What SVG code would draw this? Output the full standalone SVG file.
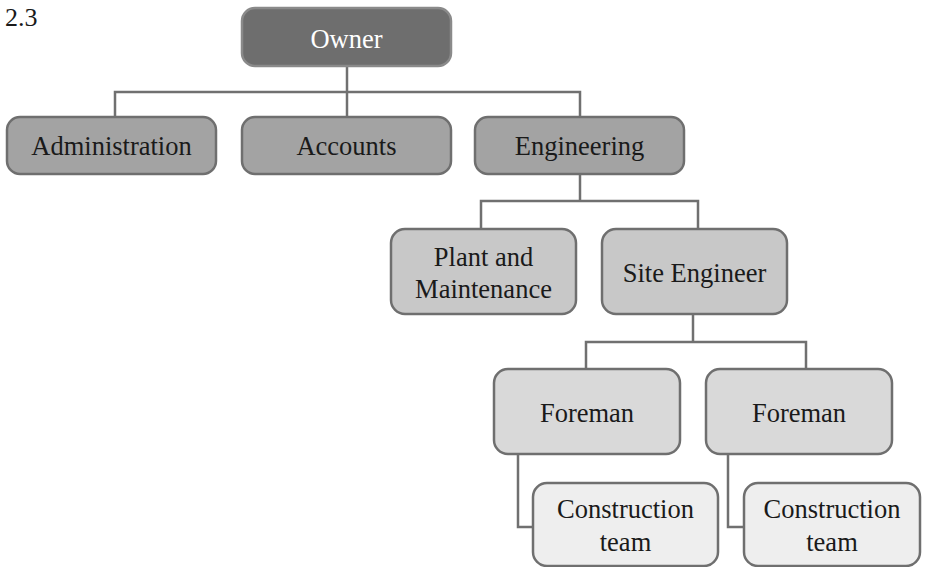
<svg xmlns="http://www.w3.org/2000/svg" width="927" height="567" viewBox="0 0 927 567" font-family="'Liberation Serif', 'Times New Roman', serif">
  <style>
    .box { stroke: #6f6f6f; stroke-width: 2.5; }
    .l0 { fill: #6e6e6e; stroke: #8a8a8a; }
    .l1 { fill: #a3a3a3; }
    .l2 { fill: #c8c8c8; }
    .l3 { fill: #d9d9d9; }
    .l4 { fill: #eeeeee; }
    text { font-family: "Liberation Serif", "Times New Roman", serif; font-size: 26.5px; fill: #1a1a1a; text-anchor: middle; }
    .light { fill: #ffffff; }
    .conn { fill: none; stroke: #707070; stroke-width: 2.5; }
  </style>

  <text x="5" y="26" style="text-anchor:start;font-size:26px">2.3</text>

  <g id="connectors">
    <path class="conn" d="M347 66 V117"/>
    <path class="conn" d="M115 117 V92 H580 V117"/>
    <path class="conn" d="M580 174 V201"/>
    <path class="conn" d="M481 228 V201 H698 V228"/>
    <path class="conn" d="M693 314 V342"/>
    <path class="conn" d="M586 369 V342 H806 V369"/>
    <path class="conn" d="M518 454 V527 H533"/>
    <path class="conn" d="M728 454 V527 H744"/>
  </g>

  <g id="owner">
    <rect class="box l0" x="242" y="8" width="209" height="58" rx="13"/>
    <text class="light" x="346.5" y="48">Owner</text>
  </g>

  <g id="administration">
    <rect class="box l1" x="7" y="117" width="209" height="57" rx="13"/>
    <text x="111.5" y="155">Administration</text>
  </g>

  <g id="accounts">
    <rect class="box l1" x="242" y="117" width="209" height="57" rx="13"/>
    <text x="346.5" y="155">Accounts</text>
  </g>

  <g id="engineering">
    <rect class="box l1" x="475" y="117" width="209" height="57" rx="13"/>
    <text x="579.5" y="155">Engineering</text>
  </g>

  <g id="plant-maintenance">
    <rect class="box l2" x="391" y="229" width="185" height="85" rx="14"/>
    <text x="483.5" y="266">Plant and</text>
    <text x="483.5" y="298">Maintenance</text>
  </g>

  <g id="site-engineer">
    <rect class="box l2" x="602" y="229" width="185" height="85" rx="14"/>
    <text x="694.5" y="282">Site Engineer</text>
  </g>

  <g id="foreman-1">
    <rect class="box l3" x="494" y="369" width="186" height="85" rx="14"/>
    <text x="587" y="422">Foreman</text>
  </g>

  <g id="foreman-2">
    <rect class="box l3" x="706" y="369" width="186" height="85" rx="14"/>
    <text x="799" y="422">Foreman</text>
  </g>

  <g id="construction-team-1">
    <rect class="box l4" x="533" y="483" width="185" height="83" rx="14"/>
    <text x="625.5" y="518">Construction</text>
    <text x="625.5" y="551">team</text>
  </g>

  <g id="construction-team-2">
    <rect class="box l4" x="744" y="483" width="176" height="83" rx="14"/>
    <text x="832" y="518">Construction</text>
    <text x="832" y="551">team</text>
  </g>
</svg>
